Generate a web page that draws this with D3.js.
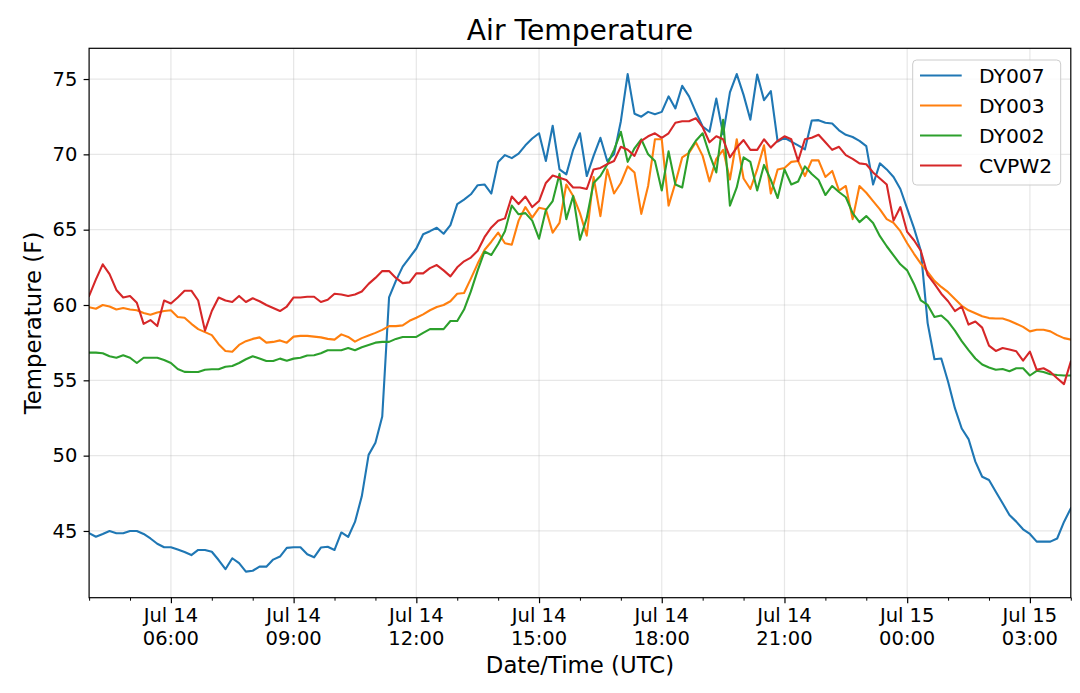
<!DOCTYPE html>
<html>
<head>
<meta charset="utf-8">
<script src="https://cdn.jsdelivr.net/npm/d3@7"></script>
<style>
  html, body { margin: 0; padding: 0; background: #fff; }
  svg { display: block; font-family: "DejaVu Sans", sans-serif; }
</style>
</head>
<body>
<svg id="chart" width="1080" height="693"></svg>
<script>
// ---------------- DATA ----------------
const startUTC = "2019-07-14T04:00:00Z";
const endUTC = "2019-07-15T04:00:00Z";
const stepMinutes = 10;
const seriesNames = ["DY007", "DY003", "DY002", "CVPW2"];
const seriesColors = ["#1f77b4", "#ff7f0e", "#2ca02c", "#d62728"];
const yTicks = [45, 50, 55, 60, 65, 70, 75];
const yDomain = [40.57, 77.04];

const DY007 = [
  44.85, 44.62, 44.8, 45.0, 44.85, 44.85, 45.0, 45.0, 44.8, 44.5,
  44.15, 43.92, 43.92, 43.77, 43.6, 43.4, 43.74, 43.74, 43.62, 43.07,
  42.46, 43.19, 42.86, 42.3, 42.36, 42.63, 42.63, 43.1, 43.3, 43.88,
  43.92, 43.92, 43.45, 43.25, 43.9, 43.95, 43.74, 44.9, 44.6, 45.6,
  47.3, 50.05, 50.85, 52.6, 60.5, 61.6, 62.55, 63.15, 63.75, 64.7,
  64.9, 65.13, 64.73, 65.3, 66.7, 67.0, 67.35, 67.95, 68.0, 67.4,
  69.5, 69.95, 69.75, 70.05, 70.6, 71.05, 71.4, 69.56, 71.9, 69.0,
  68.67, 70.3, 71.4, 68.56, 69.9, 71.1, 69.56, 70.0, 72.2, 75.33,
  72.7, 72.5, 72.82, 72.67, 72.82, 73.85, 73.05, 74.55, 73.85, 72.8,
  71.85, 71.5, 73.7, 71.33, 74.11, 75.33, 73.95, 72.3, 75.3, 73.6,
  74.2, 70.85, 71.1, 70.85, 70.6, 70.33, 72.25, 72.27, 72.1, 72.05,
  71.6, 71.3, 71.15, 70.9, 70.55, 68.0, 69.4, 69.0, 68.5, 67.7,
  66.4, 65.1, 63.6, 58.8, 56.4, 56.45, 54.9, 53.15, 51.8, 51.1,
  49.6, 48.6, 48.38, 47.6, 46.84, 46.06, 45.62, 45.11, 44.8, 44.29,
  44.29, 44.29, 44.5, 45.6, 46.5
];

const DY003 = [
  59.85, 59.75, 60.0, 59.9, 59.7, 59.8, 59.7, 59.65, 59.47, 59.35,
  59.5, 59.6, 59.65, 59.2, 59.15, 58.75, 58.4, 58.2, 58.0, 57.4,
  56.95, 56.9, 57.35, 57.6, 57.75, 57.85, 57.5, 57.55, 57.65, 57.5,
  57.9, 57.95, 57.95, 57.9, 57.85, 57.75, 57.7,
  58.05, 57.88, 57.57, 57.8, 57.97, 58.15, 58.35, 58.6,
  58.6, 58.65, 58.95, 59.15, 59.38, 59.65, 59.87, 60.0, 60.25, 60.75,
  60.8, 61.75, 62.75, 63.65, 64.2, 64.8, 64.1, 64.0, 65.6, 66.5,
  65.8, 66.45, 66.35, 64.8, 65.45, 68.0, 67.24, 66.1,
  64.6, 68.5, 65.9, 69.0, 67.4, 68.1, 69.2, 68.8, 66.05, 67.9,
  71.0, 71.0, 66.6, 68.1, 69.8, 70.1, 70.8, 69.9, 68.2, 69.7,
  70.3, 68.33, 71.0, 68.4, 67.7, 69.0, 70.6, 67.4, 69.0, 69.1,
  69.5, 69.56, 68.56, 69.6, 69.6, 68.5,
  68.9, 67.6, 67.9, 65.7, 67.9, 67.45, 66.9, 66.35, 65.7, 65.45,
  64.9, 64.1, 63.4, 62.75, 62.2, 61.6, 61.2, 60.85, 60.4, 59.95,
  59.65, 59.45, 59.25, 59.13, 59.1, 59.1, 58.95, 58.75, 58.55, 58.25,
  58.36, 58.36, 58.25, 58.0, 57.8, 57.7
];

const DY002 = [
  56.84, 56.84, 56.8, 56.6, 56.5, 56.66, 56.5, 56.15, 56.5, 56.5,
  56.5, 56.35, 56.15, 55.75, 55.56, 55.55, 55.55, 55.7, 55.73, 55.73,
  55.9, 55.95, 56.15, 56.4, 56.6, 56.45, 56.28, 56.28, 56.44, 56.3,
  56.44, 56.5, 56.65, 56.66, 56.8, 57.0, 57.0, 57.0, 57.15, 57.0,
  57.2, 57.35, 57.5, 57.55, 57.55,
  57.75, 57.88, 57.88, 57.88, 58.15, 58.4, 58.4, 58.4, 58.94, 58.94,
  59.7, 60.9, 62.3, 63.55, 63.32, 64.05, 64.9, 66.6, 66.02, 66.1,
  65.6, 64.4, 66.3, 66.9, 68.7, 65.7, 67.24,
  64.33, 65.78, 68.1, 68.56, 69.33, 70.3, 71.5, 69.5, 70.4, 71.0,
  70.0, 69.56, 67.6, 70.2, 68.0, 67.8, 70.2, 70.9, 71.4, 70.0,
  68.8, 72.3, 66.6, 67.8, 69.8, 69.5, 67.6, 69.3, 68.3, 67.1,
  69.0, 68.0, 68.2, 69.2, 68.7, 68.3, 67.3,
  67.9, 67.5, 67.15, 66.1, 65.5, 65.9, 65.45, 64.57, 63.9, 63.3,
  62.7, 62.3, 61.4, 60.3, 60.0, 59.2, 59.3, 58.9, 58.3, 57.6,
  57.0, 56.45, 56.05, 55.85, 55.7, 55.75, 55.6, 55.8, 55.8, 55.32,
  55.63, 55.55, 55.4, 55.35, 55.32, 55.32
];

const CVPW2 = [
  60.6, 61.7, 62.7, 62.05, 61.0, 60.5, 60.6, 60.15, 58.75, 59.0,
  58.6, 60.3, 60.1, 60.5, 60.95, 60.95, 60.3, 58.3, 59.6, 60.5,
  60.3, 60.2, 60.6, 60.2, 60.45, 60.25, 60.0, 59.8, 59.6, 59.9,
  60.5, 60.5, 60.55, 60.55, 60.2, 60.35,
  60.75, 60.7, 60.6, 60.7, 60.9, 61.4, 61.8, 62.25, 62.25, 61.8,
  61.45, 61.5, 62.1, 62.1, 62.45, 62.65, 62.3, 61.9, 62.5, 62.9,
  63.15, 63.6, 64.5, 65.15, 65.6, 65.75, 67.2, 66.7, 67.2, 66.5,
  66.9, 68.1, 68.6, 68.45, 68.3, 67.8,
  67.8, 67.7, 69.0, 69.1, 69.35, 69.56, 70.5, 70.3, 69.9, 70.9,
  71.2, 71.4, 71.1, 71.4, 72.1, 72.2, 72.2, 72.4, 71.8, 70.8,
  71.2, 71.0, 69.8, 70.45, 70.95, 70.3, 70.3, 71.0, 70.45, 70.9,
  71.2, 71.0, 69.56, 71.0, 71.1, 71.3, 70.8,
  70.3, 70.5, 69.95, 69.7, 69.4, 69.34, 68.8, 68.4, 68.0, 65.6,
  66.5, 64.85, 64.3, 63.6, 62.0, 61.4, 60.75, 60.25, 59.6, 59.9,
  58.7, 58.9, 58.5, 57.3, 56.95, 57.14, 57.05, 56.93, 56.3, 56.9,
  55.7, 55.8, 55.55, 55.14, 54.75, 56.25
];

const seriesValues = [DY007, DY003, DY002, CVPW2];

// ---------------- LAYOUT ----------------
const W = 1080, H = 693;
const margin = { left: 89.1, top: 48.3, right: 9.2, bottom: 95.3 };
const iw = W - margin.left - margin.right;
const ih = H - margin.top - margin.bottom;
const FONT = '"DejaVu Sans", sans-serif';

const svg = d3.select("#chart");
const g = svg.append("g").attr("transform", `translate(${margin.left},${margin.top})`);

const t0 = new Date(startUTC), t1 = new Date(endUTC);
const x = d3.scaleUtc().domain([t0, t1]).range([0, iw]);
const y = d3.scaleLinear().domain(yDomain).range([ih, 0]);

const timeOf = i => new Date(t0.getTime() + i * stepMinutes * 60000);

// grid
const majorTicks = d3.utcHour.every(3).range(t0, t1).filter(d => d > t0 && d < t1);
const minorTicks = d3.utcHour.every(1).range(t0, new Date(t1.getTime() + 1)).filter(d => d.getUTCHours() % 3 !== 0);

g.append("g").selectAll("line").data(majorTicks).join("line")
  .attr("x1", d => x(d)).attr("x2", d => x(d))
  .attr("y1", 0).attr("y2", ih)
  .attr("stroke", "#b0b0b0").attr("stroke-opacity", 0.3).attr("stroke-width", 1.2);
g.append("g").selectAll("line").data(yTicks).join("line")
  .attr("x1", 0).attr("x2", iw)
  .attr("y1", d => y(d)).attr("y2", d => y(d))
  .attr("stroke", "#b0b0b0").attr("stroke-opacity", 0.3).attr("stroke-width", 1.2);

// lines
svg.append("defs").append("clipPath").attr("id", "clip")
  .append("rect").attr("width", iw).attr("height", ih);

const line = d3.line()
  .x((d, i) => x(timeOf(i)))
  .y(d => y(d))
  .curve(d3.curveLinear);

const lines = g.append("g").attr("clip-path", "url(#clip)");
seriesValues.forEach((vals, si) => {
  lines.append("path")
    .datum(vals)
    .attr("d", line)
    .attr("fill", "none")
    .attr("stroke", seriesColors[si])
    .attr("stroke-width", 2.1)
    .attr("stroke-linejoin", "round")
    .attr("stroke-linecap", "square");
});

// frame
g.append("rect").attr("width", iw).attr("height", ih)
  .attr("fill", "none").attr("stroke", "#000").attr("stroke-width", 1.2);

// y axis
const yAxis = d3.axisLeft(y).tickValues(yTicks).tickSize(5.5).tickPadding(6.3).tickFormat(d3.format("d"));
const ya = g.append("g").call(yAxis);
ya.select(".domain").remove();
ya.selectAll("line").attr("stroke", "#000").attr("stroke-width", 1.2);
ya.selectAll("text").attr("font-family", FONT).attr("font-size", 19.5).attr("fill", "#000");

// x axis major
const fmtDay = d3.utcFormat("%b %d");
const fmtHour = d3.utcFormat("%H:%M");
const xAxis = d3.axisBottom(x).tickValues(majorTicks).tickSize(5.5).tickFormat("");
const xa = g.append("g").attr("transform", `translate(0,${ih})`).call(xAxis);
xa.select(".domain").remove();
xa.selectAll("line").attr("stroke", "#000").attr("stroke-width", 1.2);

// x minor ticks
const xMinor = d3.axisBottom(x).tickValues(minorTicks).tickSize(3).tickFormat("");
const xm = g.append("g").attr("transform", `translate(0,${ih})`).call(xMinor);
xm.select(".domain").remove();
xm.selectAll("line").attr("stroke", "#000").attr("stroke-width", 1);

// x tick labels (two lines)
const xl = g.append("g").attr("transform", `translate(0,${ih})`);
majorTicks.forEach(d => {
  const t = xl.append("text")
    .attr("x", x(d)).attr("text-anchor", "middle")
    .attr("font-family", FONT).attr("font-size", 19.5).attr("fill", "#000");
  t.append("tspan").attr("x", x(d)).attr("y", 24.6).text(fmtDay(d));
  t.append("tspan").attr("x", x(d)).attr("y", 47.3).text(fmtHour(d));
});

// title & labels
svg.append("text").attr("x", margin.left + iw / 2).attr("y", 40)
  .attr("text-anchor", "middle").attr("font-family", FONT).attr("font-size", 28.2)
  .attr("fill", "#000").text("Air Temperature");
svg.append("text").attr("x", margin.left + iw / 2).attr("y", 673.3)
  .attr("text-anchor", "middle").attr("font-family", FONT).attr("font-size", 22.8)
  .attr("fill", "#000").text("Date/Time (UTC)");
svg.append("text").attr("transform", `translate(41,${margin.top + ih / 2}) rotate(-90)`)
  .attr("text-anchor", "middle").attr("font-family", FONT).attr("font-size", 22.8)
  .attr("fill", "#000").text("Temperature (F)");

// legend
const leg = svg.append("g").attr("transform", "translate(912.7,60)");
leg.append("rect").attr("width", 148).attr("height", 125).attr("rx", 4)
  .attr("fill", "#fff").attr("fill-opacity", 0.8)
  .attr("stroke", "#cccccc").attr("stroke-width", 1);
seriesNames.forEach((name, i) => {
  const cy = 15.5 + i * 30;
  leg.append("line").attr("x1", 7.3).attr("x2", 49).attr("y1", cy).attr("y2", cy)
    .attr("stroke", seriesColors[i]).attr("stroke-width", 2.1);
  leg.append("text").attr("x", 66.3).attr("y", cy).attr("dy", "0.36em")
    .attr("font-family", FONT).attr("font-size", 20.3).attr("fill", "#000").text(name);
});
</script>
</body>
</html>
